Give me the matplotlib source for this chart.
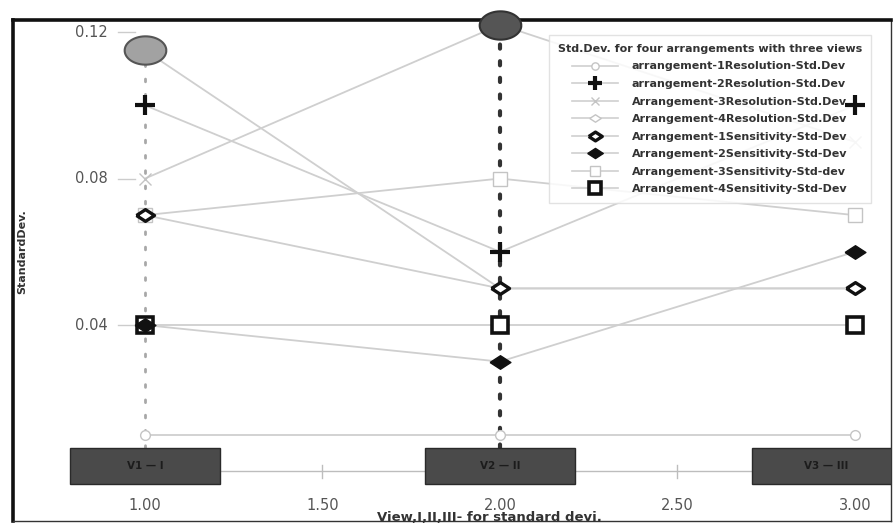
import matplotlib
matplotlib.use("Agg")
import matplotlib.pyplot as plt
import numpy as np
from matplotlib.patches import Rectangle
from matplotlib.lines import Line2D

# ---------------- data ----------------
views = [1.0, 2.0, 3.0]
view_labels = ["V1 — I", "V2 — II", "V3 — III"]
view_box_centers = [1.0, 2.0, 2.92]

a1_res = [0.010, 0.010, 0.010]
a2_res = [0.100, 0.060, 0.100]
a3_res = [0.080, 0.122, 0.090]
a4_res = [0.115, 0.050, 0.050]
a1_sen = [0.070, 0.050, 0.050]
a2_sen = [0.040, 0.030, 0.060]
a3_sen = [0.070, 0.080, 0.070]
a4_sen = [0.040, 0.040, 0.040]

series_labels = [
    "arrangement-1Resolution-Std.Dev",
    "arrangement-2Resolution-Std.Dev",
    "Arrangement-3Resolution-Std.Dev",
    "Arrangement-4Resolution-Std.Dev",
    "Arrangement-1Sensitivity-Std-Dev",
    "Arrangement-2Sensitivity-Std-Dev",
    "Arrangement-3Sensitivity-Std-dev",
    "Arrangement-4Sensitivity-Std-Dev",
]
legend_title = "Std.Dev. for four arrangements with three views"
y_ticks = [0.04, 0.08, 0.12]
y_tick_labels = ["0.04", "0.08", "0.12"]
x_ticks = [1.0, 1.5, 2.0, 2.5, 3.0]
x_tick_labels = ["1.00", "1.50", "2.00", "2.50", "3.00"]
x_label = "View,I,II,III- for standard devi."
y_label = "StandardDev."

# ---------------- figure ----------------
W, H = 893, 524
fig = plt.figure(figsize=(W / 100, H / 100), dpi=100)
ax = fig.add_axes([13 / W, 3 / H, 878 / W, 501 / H])
ax.set_xlim(0.6282, 3.1014)
ax.set_ylim(-0.01352, 0.12330)
ax.set_xticks([])
ax.set_yticks([])
for s in ["left", "top"]:
    ax.spines[s].set_linewidth(2.6)
    ax.spines[s].set_color("#111111")
for s in ["right", "bottom"]:
    ax.spines[s].set_linewidth(1.0)
    ax.spines[s].set_color("#333333")

light = "#c4c4c4"
line_col = "#cfcfcf"

diamond = [(-1, 0), (0, 0.65), (1, 0), (0, -0.65), (-1, 0)]
t = np.linspace(0, 2 * np.pi, 60)
ellipse = list(zip(np.cos(t), 0.68 * np.sin(t)))

styles = [
    dict(marker="o", ms=7, mfc="white", mec=light, mew=1.0),
    dict(marker="+", ms=14, mfc="black", mec="#111111", mew=3.0),
    dict(marker="x", ms=8, mfc="none", mec=light, mew=1.0),
    dict(marker=diamond, ms=11, mfc="white", mec=light, mew=1.0),
    dict(marker=diamond, ms=13, mfc="white", mec="#111111", mew=2.4),
    dict(marker=diamond, ms=15, mfc="#111111", mec="#111111", mew=1.0),
    dict(marker="s", ms=10, mfc="white", mec=light, mew=1.0),
    dict(marker="s", ms=11, mfc="white", mec="#111111", mew=2.6),
]
# light markers underneath, dark on top; plus markers drawn over the legend
marker_z = [4.0, 10.0, 4.0, 4.0, 5.1, 5.4, 4.0, 5.3]
all_series = [a1_res, a2_res, a3_res, a4_res, a1_sen, a2_sen, a3_sen, a4_sen]

# x-axis baseline and ticks
ax.plot([views[0], views[-1]], [0, 0], color="#bdbdbd", lw=1.0, zorder=1)
for xt in x_ticks:
    ax.plot([xt, xt], [-0.0018, 0.0018], color="#bdbdbd", lw=1.0, zorder=1)

# vertical dotted drop lines
ax.plot([views[0], views[0]], [0.0065, a4_res[0]], color="#a8a8a8", lw=2.0,
        ls=(0, (1, 4.5)), dash_capstyle="round", zorder=2)
ax.plot([views[1], views[1]], [-0.003, a3_res[1]], color="#333333", lw=3.0,
        ls=(0, (1, 3)), dash_capstyle="round", zorder=2)

for ys in all_series:
    ax.plot(views, ys, color=line_col, lw=1.3, zorder=3)
for ys, st, z in zip(all_series, styles, marker_z):
    ax.plot(views, ys, ls="none", zorder=z, **st)

# highlighted big points
ax.scatter([views[0]], [a4_res[0]], marker=ellipse, s=900, facecolor="#a2a2a2",
           edgecolor="#555555", linewidth=1.5, zorder=6)
ax.scatter([views[1]], [a3_res[1]], marker=ellipse, s=900, facecolor="#555555",
           edgecolor="#333333", linewidth=1.5, zorder=6, clip_on=False)

# view boxes
bw, bh_top, bh_bot = 0.4225, 0.00642, -0.00341
for cx, lab in zip(view_box_centers, view_labels):
    ax.add_patch(Rectangle((cx - bw / 2, bh_bot), bw, bh_top - bh_bot,
                           facecolor="#4a4a4a", edgecolor="#2a2a2a", lw=1.0, zorder=7))
    ax.text(cx, (bh_top + bh_bot) / 2, lab, ha="center", va="center",
            fontsize=7.5, fontweight="bold", color="#1c1c1c", zorder=8)

# tick labels
for xt, lab in zip(x_ticks, x_tick_labels):
    ax.text(xt, -0.0092, lab, ha="center", va="center", fontsize=10.5, color="#555555")
for yt, lab in zip(y_ticks, y_tick_labels):
    ax.text(0.896, yt, lab, ha="right", va="center", fontsize=10.5, color="#555555")
    ax.plot([0.924, 0.972], [yt, yt], color="#cccccc", lw=1.0, zorder=1)

ax.text(1.97, -0.0127, x_label, ha="center", va="center", fontsize=9.5,
        fontweight="bold", color="#333333")
ax.text(0.6545, 0.060, y_label, ha="center", va="center", rotation=90,
        fontsize=8, fontweight="bold", color="#333333")

# legend
handles = [Line2D([], [], color=line_col, lw=1.2, **st) for st in styles]
leg = ax.legend(handles, series_labels, title=legend_title, loc="upper left",
                bbox_to_anchor=((549 - 13) / 878, (521 - 35) / 501),
                borderaxespad=0, fontsize=8, title_fontsize=8, markerscale=0.75,
                handlelength=4.1, handletextpad=1.25, labelspacing=0.68,
                frameon=True, fancybox=False, framealpha=0.85,
                edgecolor="#dddddd", borderpad=0.8)
for txt in leg.get_texts():
    txt.set_fontweight("bold")
    txt.set_color("#333333")
leg.get_title().set_fontweight("bold")
leg.get_title().set_color("#333333")
leg.set_zorder(9)

fig.savefig("out.png", dpi=100)
